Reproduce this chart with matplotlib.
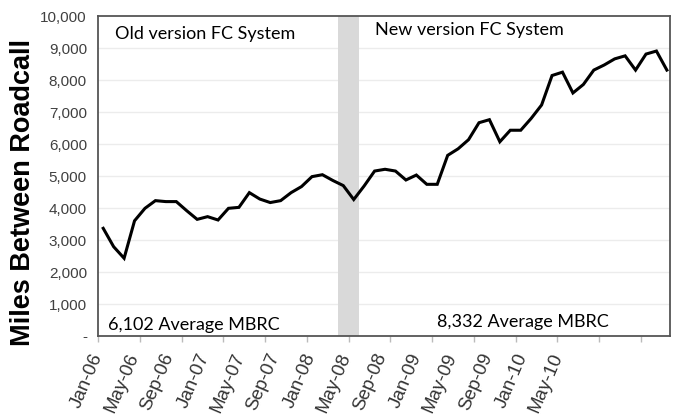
import numpy as np
import matplotlib.pyplot as plt
from matplotlib.ticker import FuncFormatter

# monthly miles between roadcall, Jan-06 .. Jul-10
mbrc = [3365, 2790, 2430, 3600, 3990, 4230, 4200, 4200, 3915, 3645, 3730, 3625,
        3990, 4020, 4480, 4280, 4170, 4230, 4480, 4670, 4980, 5040, 4860, 4700,
        4265, 4690, 5155, 5210, 5155, 4875, 5030, 4740, 4740, 5645, 5850, 6135,
        6665, 6760, 6070, 6430, 6430, 6800, 7220, 8140, 8245, 7595, 7860, 8310,
        8470, 8660, 8755, 8310, 8810, 8905, 8310]

tick_labels = ['Jan-06', 'May-06', 'Sep-06', 'Jan-07', 'May-07', 'Sep-07', 'Jan-08',
               'May-08', 'Sep-08', 'Jan-09', 'May-09', 'Sep-09', 'Jan-10', 'May-10']

old_label = 'Old version FC System'
new_label = 'New version FC System'
old_avg = '6,102 Average MBRC'
new_avg = '8,332 Average MBRC'

x = np.arange(len(mbrc))

fig = plt.figure(figsize=(6.73, 4.16), dpi=100)
ax = fig.add_axes([98/673, 1 - 336/416, 572/673, 320/416])

ax.axvspan(22.5, 24.5, color='#d9d9d9', lw=0, zorder=1)
for yv in range(1000, 10000, 1000):
    ax.axhline(yv, color='#ececec', lw=1, zorder=0)
ax.plot(x, mbrc, color='black', lw=2.2, zorder=3, solid_joinstyle='miter')

ax.set_xlim(-0.5, 54.3)
ax.set_ylim(0, 10000)
ax.set_yticks(range(0, 10001, 1000))
ax.yaxis.set_major_formatter(FuncFormatter(lambda v, p: '-' if v == 0 else f'{v:,.0f}'))
ax.tick_params(axis='y', length=0, pad=8, labelsize=11, labelcolor='#404040')
for t in ax.get_yticklabels():
    t.set_fontfamily('Liberation Sans')

label_pos = -0.45 + 3.39 * np.arange(len(tick_labels))
ax.set_xticks(label_pos)
ax.set_xticklabels(tick_labels, rotation=67, ha='right', va='center',
                   rotation_mode='anchor', fontsize=13.5, color='#333333',
                   fontfamily='Liberation Sans')
ax.tick_params(axis='x', which='major', length=0, pad=13)
ax.set_xticks(np.arange(-0.5, 54, 4), minor=True)
ax.tick_params(axis='x', which='minor', length=4, color='#bbbbbb', width=1)

for s in ax.spines.values():
    s.set_color('#555555')
    s.set_linewidth(1.3)

ax.text(1.1, 9440, old_label, fontsize=13, fontfamily='Lato', va='center', ha='left')
ax.text(26.0, 9560, new_label, fontsize=13, fontfamily='Lato', va='center', ha='left')
ax.text(0.45, 344, old_avg, fontsize=13, fontfamily='Lato', va='center', ha='left')
ax.text(31.95, 437, new_avg, fontsize=13, fontfamily='Lato', va='center', ha='left')

fig.text(23.5/673, 1 - 193/416, 'Miles Between Roadcall', rotation=90, ha='center',
         va='center', fontsize=19.5, fontweight='bold', fontfamily='Liberation Sans')

fig.savefig('out.png', dpi=100)
